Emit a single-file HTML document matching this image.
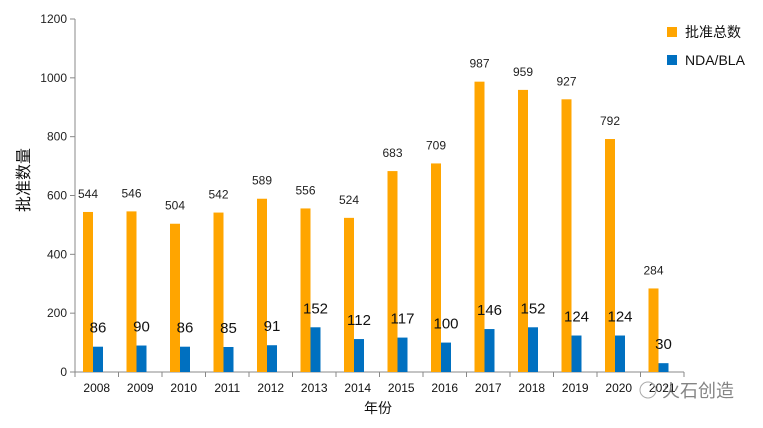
<!DOCTYPE html>
<html><head><meta charset="utf-8"><style>
body{margin:0;background:#fff;}
svg text{font-family:"Liberation Sans","Noto Sans CJK SC",sans-serif;}
</style></head><body>
<svg id="chart" width="763" height="423" xmlns="http://www.w3.org/2000/svg"></svg>
<script>
const categories=["2008","2009","2010","2011","2012","2013","2014","2015","2016","2017","2018","2019","2020","2021"];
const totalValues=[544,546,504,542,589,556,524,683,709,987,959,927,792,284];
const ndaValues=[86,90,86,85,91,152,112,117,100,146,152,124,124,30];
const yTicks=[0,200,400,600,800,1000,1200];
const NS="http://www.w3.org/2000/svg";
const svg=document.getElementById('chart');
const x0=75,band=43.5,yBase=372,yTop=19,yMax=1200;
function y(v){return yBase-(v/yMax)*(yBase-yTop);}
function xb(i){return x0+i*band;}
function mk(tag,attrs,text){const e=document.createElementNS(NS,tag);for(const k in attrs)e.setAttribute(k,attrs[k]);if(text!==undefined)e.textContent=text;svg.appendChild(e);return e;}
// axes
let ax=mk('line',{x1:x0,y1:yTop,x2:x0,y2:yBase,stroke:'#888'});


let bx=mk('line',{x1:x0,y1:yBase,x2:xb(categories.length),y2:yBase,stroke:'#888'});


yTicks.forEach(t=>{
  let l=mk('line',{x1:x0-5,y1:y(t),x2:x0,y2:y(t),stroke:'#888'});
  
  
  let tx=mk('text',{x:x0-8,y:y(t)+4,'text-anchor':'end','font-size':12,fill:'#222'},t);
  
  
});
for(let i=0;i<=categories.length;i++){
  let l=mk('line',{x1:xb(i),y1:yBase,x2:xb(i),y2:yBase+5,stroke:'#888'});
  
  
}
categories.forEach((c,i)=>{
  let tx=mk('text',{x:xb(i)+band/2,y:yBase+20,'text-anchor':'middle','font-size':12,fill:'#111'},c);
  
  
  let r=mk('rect',{x:xb(i)+8,y:y(totalValues[i]),width:10,height:yBase-y(totalValues[i]),fill:'#FFA500'});
  
  
  let r2=mk('rect',{x:xb(i)+18,y:y(ndaValues[i]),width:10,height:yBase-y(ndaValues[i]),fill:'#0070C0'});
  
  
  let t1=mk('text',{x:xb(i)+13,y:y(totalValues[i])-14,'text-anchor':'middle','font-size':12,fill:'#222'},totalValues[i]);
  
  
  let t2=mk('text',{x:xb(i)+23,y:y(ndaValues[i])-14,'text-anchor':'middle','font-size':15,fill:'#111'},ndaValues[i]);
  
  
});
let yt=mk('text',{x:0,y:0,'text-anchor':'middle','font-size':16,fill:'#111',transform:'translate(29,180) rotate(-90)'},'批准数量');


let xt=mk('text',{x:378,y:413,'text-anchor':'middle','font-size':14,fill:'#111'},'年份');


// legend
let lg1=mk('rect',{x:667,y:27,width:10,height:10,fill:'#FFA500'});


let lt1=mk('text',{x:685,y:37,'font-size':14,fill:'#111'},'批准总数');


let lg2=mk('rect',{x:667,y:55,width:10,height:10,fill:'#0070C0'});


let lt2=mk('text',{x:685,y:65,'font-size':14,fill:'#111'},'NDA/BLA');


let wm=mk('text',{x:662,y:397,'font-size':18,fill:'#666',opacity:0.8},'火石创造');


let wc=mk('circle',{cx:648,cy:390,r:8,fill:'none',stroke:'#aaa'});


</script>
</body></html>
